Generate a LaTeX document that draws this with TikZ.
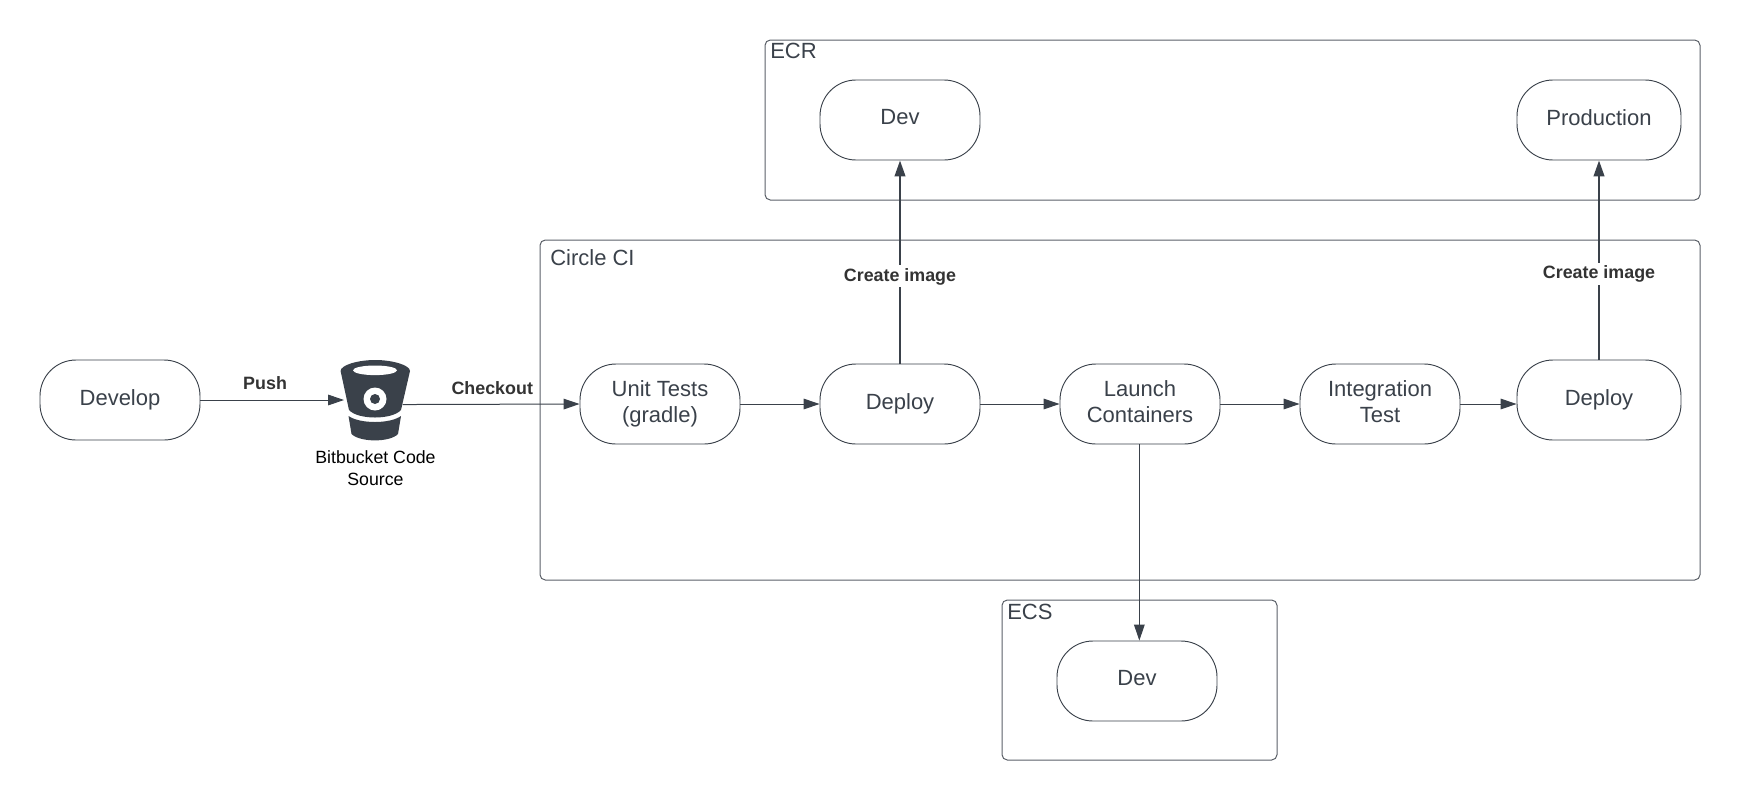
\documentclass[tikz,border=0pt]{standalone}
\usepackage{fontspec}
\setmainfont{Liberation Sans}
\usetikzlibrary{arrows.meta}
\definecolor{ink}{HTML}{3A414A}
\definecolor{lab}{HTML}{333333}
\definecolor{edge}{HTML}{5B6068}
\newcommand{\lowline}{\rule[-3.6pt]{0pt}{0pt}}
\tikzset{
  pill/.style={draw=ink,line width=.7pt,fill=white,rounded corners=27pt,minimum height=60pt,inner sep=0pt,align=center,text=ink,font=\fontsize{16.5}{20}\selectfont},
  oneline/.style={text height=12pt,text depth=4pt},
  wide/.style={minimum width=120pt},
  frameb/.style={draw=edge,line width=.75pt,rounded corners=4pt,inner sep=0pt},
  ftitle/.style={anchor=base west,inner sep=0pt,text=ink,font=\fontsize{16.5}{20}\selectfont},
  thin arrow/.style={draw=ink,line width=.75pt,-{Triangle[length=12pt,width=8pt]}},
  thick arrow/.style={draw=ink,line width=1.6pt,-{Triangle[length=12pt,width=8pt]}},
  elabel/.style={inner sep=0pt,text=lab,font=\fontsize{13.4}{16}\bfseries\selectfont},
  gapped/.style={fill=white,minimum height=16.5pt},
}
\begin{document}
\begin{tikzpicture}[x=.75pt,y=-.75pt]
\useasboundingbox (0,0) rectangle (1740,800);
% frames
\node[frameb,minimum width=701.25pt,minimum height=120pt] (ecr) at (1232.5,120) {};
\node[frameb,minimum width=870pt,minimum height=255pt] (ci) at (1120,410) {};
\node[frameb,minimum width=206.25pt,minimum height=120pt] (ecs) at (1139.5,680) {};
\node[ftitle] (ecrt) at (770,58) {ECR};
\node[ftitle] (cit) at (550,265) {Circle CI};
\node[ftitle] (ecst) at (1007,619) {ECS};
% pills
\node[pill,wide,oneline] (develop) at (120,400) {Develop};
\node[pill,wide] (unit) at (660,404) {Unit Tests\\(gradle)\lowline};
\node[pill,wide,oneline] (deploya) at (900,404) {Deploy};
\node[pill,wide] (launch) at (1140,404) {Launch\\Containers\lowline};
\node[pill,wide] (integ) at (1380,404) {Integration\\Test\lowline};
\node[pill,minimum width=123pt,oneline] (deployb) at (1599,400) {Deploy};
\node[pill,wide,oneline,text depth=4.6pt] (ecrdev) at (900,120) {Dev};
\node[pill,minimum width=123pt,oneline,text depth=4.3pt] (prod) at (1599,120) {Production};
\node[pill,wide,oneline,text depth=4.6pt] (ecsdev) at (1137,681) {Dev};
% bucket
\node[minimum width=52.5pt,minimum height=60pt,inner sep=0pt] (bucket) at (375.3,400) {};
\node[align=center,inner sep=0pt,font=\fontsize{13.3}{16.5}\selectfont] (bucketlabel) at (375.5,468) {Bitbucket Code\\Source};
% connectors
\draw[thin arrow] (develop.east) -- ([xshift=3pt]bucket.west) node[pos=.45,elabel,above=7.3pt] (pushl) {Push};
\draw[thin arrow] ([xshift=-6pt,yshift=-3.4pt]bucket.east) -- (unit.west) node[midway,elabel,above=6.7pt,xshift=.9pt] (chkl) {Checkout};
\draw[thin arrow] (unit.east) -- (deploya.west);
\draw[thin arrow] (deploya.east) -- (launch.west);
\draw[thin arrow] (launch.east) -- (integ.west);
\draw[thin arrow] (integ.east) -- (integ.east -| deployb.west);
\draw[thin arrow] ([xshift=-.5pt]launch.south) -- ([xshift=-.5pt]launch.south |- ecsdev.north);
\draw[thick arrow] (deploya.north) -- (ecrdev.south) node[pos=.429,elabel,gapped] (cia) {Create image};
\draw[thick arrow] (deployb.north) -- (prod.south) node[pos=.429,elabel,gapped] (cib) {Create image};
% bucket icon
\fill[ink] (340.6,371) .. controls (340.6,365) and (358,360) .. (375.3,360) .. controls (392,360) and (410,365) .. (410,371)
  -- (401,410) .. controls (392,420) and (358,420) .. (349,410) -- cycle;
\fill[ink] (348.5,416) .. controls (360,424) and (390,424) .. (401,416)
  -- (398,434) .. controls (390,442.5) and (360,442.5) .. (351.5,434) -- cycle;
\fill[white] (375,370.3) ellipse (22 and 4.8);
\fill[white] (375,399) circle (11.5);
\fill[ink] (375,399) circle (5);
\end{tikzpicture}
\end{document}
